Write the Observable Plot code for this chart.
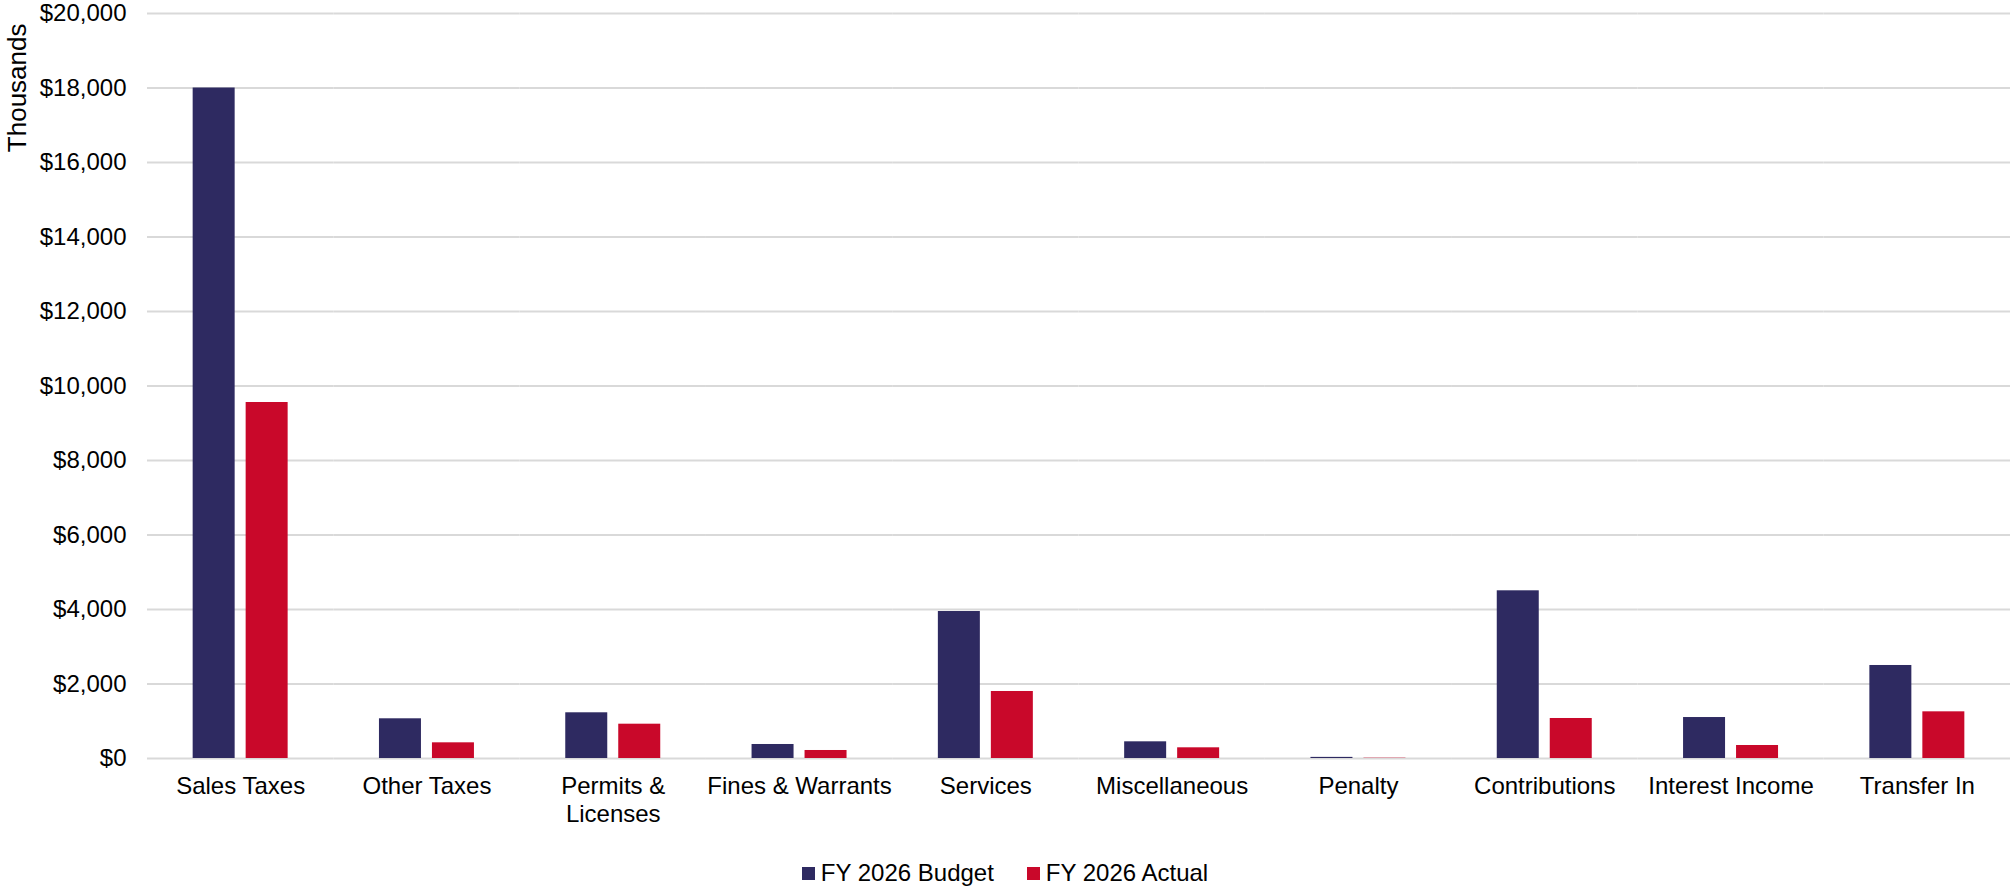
<!DOCTYPE html>
<html>
<head>
<meta charset="utf-8">
<script src="https://cdn.jsdelivr.net/npm/d3@7"></script>
<script src="https://cdn.jsdelivr.net/npm/@observablehq/plot@0.6"></script>
<style>
  html, body { margin: 0; padding: 0; background: #fff; }
  #wrap { position: relative; width: 2010px; height: 886px; overflow: hidden; font-family: "Liberation Sans", Arial, sans-serif; }
  #legend { position: absolute; left: 0; top: 860px; width: 2010px; height: 26px; display: flex; justify-content: center; align-items: center; font-size: 24px; color: #000; }
  .item { display: flex; align-items: center; }
  .sw { width: 13px; height: 13px; margin-right: 6px; }
</style>
</head>
<body>
<div id="wrap"></div>
<script>
const categories = ["Sales Taxes", "Other Taxes", "Permits & Licenses", "Fines & Warrants", "Services", "Miscellaneous", "Penalty", "Contributions", "Interest Income", "Transfer In"];
const tickLabels = ["Sales Taxes", "Other Taxes", "Permits &\nLicenses", "Fines & Warrants", "Services", "Miscellaneous", "Penalty", "Contributions", "Interest Income", "Transfer In"];
const series = ["FY 2026 Budget", "FY 2026 Actual"];
const colors = ["#2e2a61", "#c9082a"];
const budget = [18000, 1066, 1227, 376, 3946, 448, 30, 4502, 1100, 2497];
const actual = [9557, 421, 921, 215, 1799, 287, 8, 1074, 349, 1253];
const yTicks = [0, 2000, 4000, 6000, 8000, 10000, 12000, 14000, 16000, 18000, 20000];
const yLabel = "Thousands";

const rows = categories.flatMap((c, i) => [
  {category: c, series: series[0], value: budget[i]},
  {category: c, series: series[1], value: actual[i]}
]);

const fmt = d3.format(",");

const plot = Plot.plot({
  width: 2010,
  height: 840,
  marginTop: 13,
  marginBottom: 82,
  marginLeft: 147,
  marginRight: 0,
  style: {fontFamily: "'Liberation Sans', Arial, sans-serif", fontSize: "24px", color: "#000", background: "#fff"},
  fx: {domain: categories, paddingInner: 0, paddingOuter: 0, round: false, label: null},
  x: {domain: series, paddingInner: 0.2075, paddingOuter: 0.8617, round: false, axis: null},
  y: {domain: [0, 20000], round: false},
  color: {domain: series, range: colors},
  marks: [
    Plot.gridY(yTicks, {stroke: "#d9d9d9", strokeOpacity: 1, strokeWidth: 2}),
    Plot.barY(rows, {fx: "category", x: "series", y: "value", fill: "series"}),
    Plot.axisY(yTicks, {tickSize: 0, tickPadding: 21, tickFormat: d => "$" + fmt(d), fontSize: 24, label: null}),
    Plot.axisFx({anchor: "bottom", tickSize: 0, tickPadding: 16, tickFormat: d => tickLabels[categories.indexOf(d)], fontSize: 24, lineHeight: 1.15, label: null}),
    Plot.text([yLabel], {fx: [categories[0]], frameAnchor: "top-left", rotate: -90, textAnchor: "end", lineAnchor: "middle", dx: -130, dy: 10, fontSize: 26, fill: "#000"})
  ]
});

const wrap = document.getElementById("wrap");
wrap.appendChild(plot);

const legend = d3.select(wrap).append("div").attr("id", "legend");
series.forEach((s, i) => {
  const it = legend.append("div").attr("class", "item").style("margin-right", i < series.length - 1 ? "33px" : "0px");
  it.append("div").attr("class", "sw").style("background", colors[i]);
  it.append("span").text(s);
});
</script>
</body>
</html>
